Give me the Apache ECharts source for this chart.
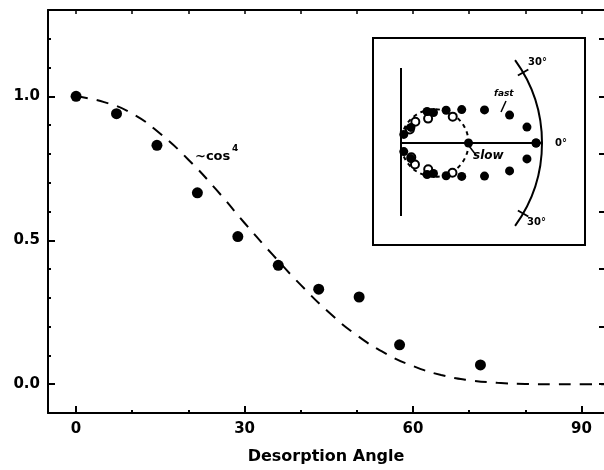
<!DOCTYPE html>
<html><head><meta charset="utf-8">
<script src="https://cdn.jsdelivr.net/npm/echarts@6/dist/echarts.min.js"></script>
<style>html,body{margin:0;padding:0;background:#fff}#c{width:604px;height:470px}</style>
</head><body><div id="c"></div>
<script>
// Main data: desorption yield vs angle (deg)
const angles = [0, 7.2, 14.4, 21.6, 28.8, 36, 43.2, 50.4, 57.6, 72];
const yields = [1.0, 0.94, 0.83, 0.665, 0.513, 0.413, 0.33, 0.303, 0.137, 0.067];
// Dashed ~cos^4 curve
const curveAngles = [0, 5, 10, 15, 20, 25, 30, 35, 40, 45, 50, 55, 60, 65, 70, 75, 80, 85, 90, 94];
const curveValues = [1.0, 0.98, 0.94, 0.87, 0.78, 0.675, 0.56, 0.45, 0.345, 0.25, 0.17, 0.108, 0.063, 0.032, 0.014, 0.005, 0.001, 0, 0, 0];
// Tick labels
const xTickLabels = [0, 30, 60, 90];
const xMinorTicks = [10, 20, 40, 50, 70, 80];
const xTopTicks = [0, 10, 20, 30, 40, 50, 60, 70, 80, 90];
const yTickLabels = [0, 0.5, 1.0];
const yMinorTicks = [0.1, 0.2, 0.3, 0.4, 0.6, 0.7, 0.8, 0.9, 1.1, 1.2];
const yRightTicks = [0, 0.2, 0.4, 0.6, 0.8, 1.0, 1.2];
// Inset (polar) data
const openAngles = [57, 56, 42, 27, -54, -57, -44, -30];
const openR = [0.12, 0.19, 0.27, 0.43, 0.13, 0.19, 0.28, 0.44];
const slowPoint = [0.5, 0];      // [radius, angle]
const arcRadius = 1.044;
const arcSpan = 36;
const arcTickAngles = [30, -30];

const FONT = 'DejaVu Sans';
const chart = echarts.init(document.getElementById('c'), null, {renderer: 'canvas'});

const insetFilled = [];
angles.forEach((a, i) => { insetFilled.push([yields[i], a]); insetFilled.push([yields[i], -a]); });
const insetOpen = openAngles.map((a, i) => [openR[i], a]);

const labelStyle = {fontFamily: FONT, fontWeight: 'bold', fontSize: 15, color: '#000'};
const axLine = {show: true, onZero: false, lineStyle: {color: '#000', width: 2}};
const noLine = {show: false, onZero: false};

chart.setOption({
  animation: false,
  backgroundColor: '#fff',
  grid: [
    {left: 48, top: 10, width: 557, height: 407, show: false},
    {left: 373, top: 38, width: 212, height: 207, show: true, backgroundColor: '#fff', borderColor: '#000', borderWidth: 2, z: 5}
  ],
  polar: {center: [401, 143], radius: 141},
  radiusAxis: {min: 0, max: arcRadius, show: false},
  angleAxis: {min: -180, max: 180, startAngle: 180, clockwise: false, show: false},
  xAxis: [
    {type: 'value', gridIndex: 0, position: 'bottom', min: -5, max: 94,
     axisLine: axLine,
     axisTick: {show: true, inside: true, length: 7, customValues: xTickLabels, lineStyle: {color: '#000', width: 2}},
     axisLabel: {show: true, customValues: xTickLabels, margin: 9, ...labelStyle},
     splitLine: {show: false},
     name: 'Desorption Angle', nameLocation: 'middle', nameGap: 36,
     nameTextStyle: {fontFamily: FONT, fontWeight: 'bold', fontSize: 16, color: '#000'}},
    {type: 'value', gridIndex: 0, position: 'bottom', min: -5, max: 94,
     axisLine: noLine,
     axisTick: {show: true, inside: true, length: 3, customValues: xMinorTicks, lineStyle: {color: '#000', width: 2}},
     axisLabel: {show: false}, splitLine: {show: false}},
    {type: 'value', gridIndex: 0, position: 'top', min: -5, max: 94,
     axisLine: axLine,
     axisTick: {show: true, inside: true, length: 4, customValues: xTopTicks, lineStyle: {color: '#000', width: 1.5}},
     axisLabel: {show: false}, splitLine: {show: false}},
    {type: 'value', gridIndex: 1, show: false, min: 0, max: 1}
  ],
  yAxis: [
    {type: 'value', gridIndex: 0, position: 'left', min: -0.1, max: 1.3,
     axisLine: axLine,
     axisTick: {show: true, inside: true, length: 7, customValues: yTickLabels, lineStyle: {color: '#000', width: 2}},
     axisLabel: {show: true, customValues: yTickLabels, margin: 8, formatter: v => Number(v).toFixed(1), ...labelStyle},
     splitLine: {show: false}},
    {type: 'value', gridIndex: 0, position: 'left', min: -0.1, max: 1.3,
     axisLine: noLine,
     axisTick: {show: true, inside: true, length: 3, customValues: yMinorTicks, lineStyle: {color: '#000', width: 2}},
     axisLabel: {show: false}, splitLine: {show: false}},
    {type: 'value', gridIndex: 0, position: 'right', min: -0.1, max: 1.3,
     axisLine: noLine,
     axisTick: {show: true, inside: true, length: 5, customValues: yRightTicks, lineStyle: {color: '#000', width: 2}},
     axisLabel: {show: false}, splitLine: {show: false}},
    {type: 'value', gridIndex: 1, show: false, min: 0, max: 1}
  ],
  series: [
    {type: 'line', xAxisIndex: 0, yAxisIndex: 0, smooth: true, showSymbol: false, symbol: 'none',
     data: curveAngles.map((a, i) => [a, curveValues[i]]),
     lineStyle: {color: '#000', width: 2, type: [12, 9]}, z: 2},
    {type: 'scatter', xAxisIndex: 0, yAxisIndex: 0, symbolSize: 11,
     data: angles.map((a, i) => [a, yields[i]]),
     itemStyle: {color: '#000', opacity: 1}, z: 3},
    // inset structural lines
    {type: 'line', coordinateSystem: 'polar', showSymbol: false, symbol: 'none',
     data: [[0.556, 90], [0, 0], [0.54, -90]], lineStyle: {color: '#000', width: 2}, z: 10},
    {type: 'line', coordinateSystem: 'polar', showSymbol: false, symbol: 'none',
     data: [[0, 0], [1.067, 0]], lineStyle: {color: '#000', width: 2}, z: 10},
    {type: 'custom', coordinateSystem: 'polar', data: [[0, 0]], silent: true, z: 10,
     renderItem: function (params, api) {
       const o = api.coord([0, 0]);
       const e = api.coord([arcRadius, 0]);
       const R = e[0] - o[0];
       const s = api.coord([slowPoint[0] / 2, 0]);
       const rs = s[0] - o[0];
       const children = [
         {type: 'arc', shape: {cx: o[0], cy: o[1], r: R, startAngle: -arcSpan * Math.PI / 180, endAngle: arcSpan * Math.PI / 180, clockwise: true},
          style: {stroke: '#000', fill: 'none', lineWidth: 2}},
         {type: 'circle', shape: {cx: o[0] + rs, cy: o[1], r: rs},
          style: {stroke: '#000', fill: 'none', lineWidth: 2, lineDash: [4, 4]}}
       ];
       arcTickAngles.forEach(a => {
         const t = a * Math.PI / 180;
         children.push({type: 'line', shape: {x1: o[0] + (R - 6) * Math.cos(t), y1: o[1] - (R - 6) * Math.sin(t), x2: o[0] + (R + 6) * Math.cos(t), y2: o[1] - (R + 6) * Math.sin(t)},
           style: {stroke: '#000', lineWidth: 2}});
       });
       return {type: 'group', children: children};
     }},
    {type: 'scatter', coordinateSystem: 'polar', symbolSize: 8, data: insetOpen,
     itemStyle: {color: '#fff', borderColor: '#000', borderWidth: 2, opacity: 1}, z: 11},
    {type: 'scatter', coordinateSystem: 'polar', symbolSize: 9, data: insetFilled.concat([slowPoint]),
     itemStyle: {color: '#000', opacity: 1}, z: 12}
  ],
  graphic: [
    {type: 'text', left: 195, top: 150, style: {text: '~cos', font: 'bold 13px "DejaVu Sans"', fill: '#000'}, z: 20},
    {type: 'text', left: 232, top: 144, style: {text: '4', font: 'bold 9px "DejaVu Sans"', fill: '#000'}, z: 20},
    {type: 'text', left: 528, top: 57, style: {text: '30°', font: 'bold 10px "DejaVu Sans"', fill: '#000'}, z: 20},
    {type: 'text', left: 527, top: 217, style: {text: '30°', font: 'bold 10px "DejaVu Sans"', fill: '#000'}, z: 20},
    {type: 'text', left: 555, top: 138, style: {text: '0°', font: 'bold 10px "DejaVu Sans"', fill: '#000'}, z: 20},
    {type: 'text', left: 494, top: 89, style: {text: 'fast', font: 'italic bold 9px "DejaVu Sans"', fill: '#000'}, z: 20},
    {type: 'text', left: 473, top: 150, style: {text: 'slow', font: 'italic bold 12px "DejaVu Sans"', fill: '#000'}, z: 20},
    {type: 'line', shape: {x1: 501, y1: 112, x2: 506, y2: 101}, style: {stroke: '#000', lineWidth: 1.5}, z: 20},
    {type: 'line', shape: {x1: 469, y1: 146, x2: 476, y2: 155}, style: {stroke: '#000', lineWidth: 1.5}, z: 20}
  ]
});
</script>
</body></html>
